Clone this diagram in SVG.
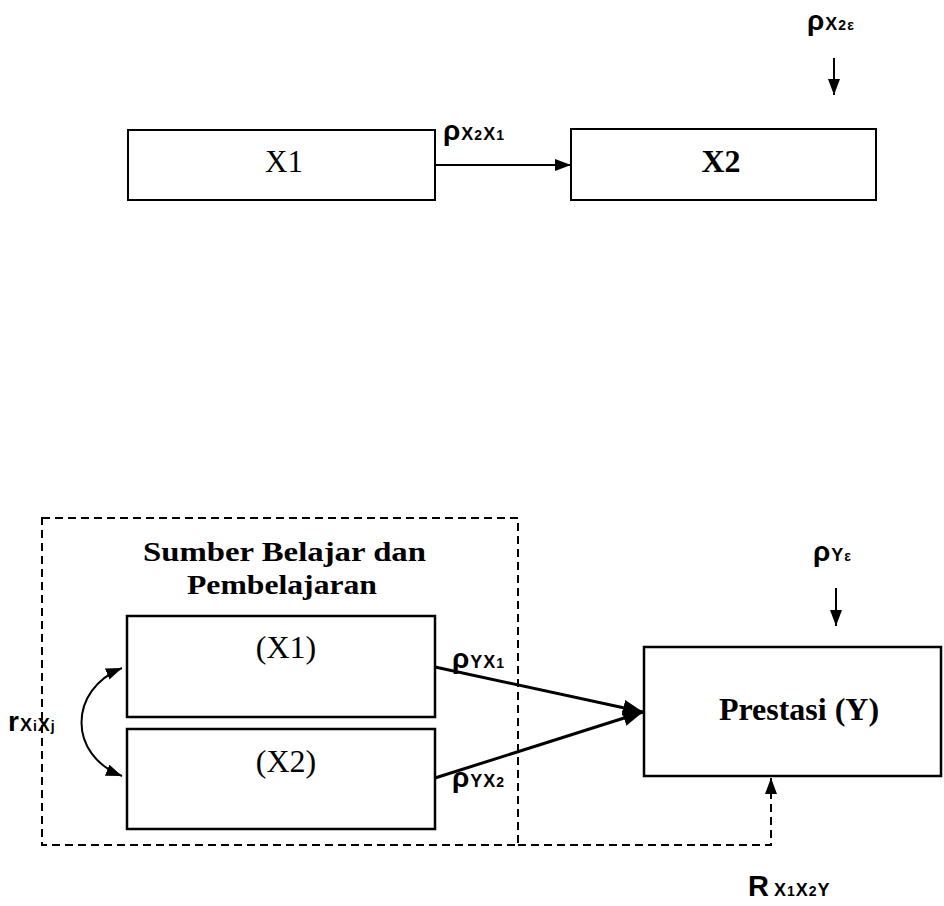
<svg xmlns="http://www.w3.org/2000/svg" width="944" height="906" viewBox="0 0 944 906">
<style>
.box{fill:#fff;stroke:#000;stroke-width:2.5}
.serif{font-family:"Liberation Serif","Times New Roman",serif;fill:#000}
.bold{font-weight:bold}
.lbl{font-family:"Liberation Sans",Arial,sans-serif;fill:#000;letter-spacing:1px}
.rho{font-size:28px;font-weight:bold}
.sub{font-size:18px;font-weight:bold}
.subn{font-size:14px;font-weight:bold}
.conn{fill:none;stroke:#000;stroke-width:2}
.thick{stroke-width:3}
.dash{fill:none;stroke:#000;stroke-width:2;stroke-dasharray:8 5}
</style>
<defs>
<marker id="ah" viewBox="0 0 16 12" refX="16" refY="6" markerWidth="16" markerHeight="12" orient="auto-start-reverse" markerUnits="userSpaceOnUse">
<path d="M0,0 L16,6 L0,12 Z" fill="#000"/>
</marker>
<marker id="ahBig" viewBox="0 0 20 16" refX="20" refY="8" markerWidth="20" markerHeight="16" orient="auto" markerUnits="userSpaceOnUse">
<path d="M0,0 L20,8 L0,16 Z" fill="#000"/>
</marker>
</defs>

<!-- Top diagram -->
<g id="nodeX1top">
<rect class="box" x="128" y="130" width="307" height="70" style="stroke-width:2"/>
<text class="serif" x="284" y="172" font-size="31" text-anchor="middle">X1</text>
</g>
<g id="nodeX2top">
<rect class="box" x="571" y="129" width="305" height="71" style="stroke-width:2"/>
<text class="serif bold" x="721" y="172" font-size="32" text-anchor="middle">X2</text>
</g>

<!-- Bottom diagram -->
<g id="group">
<rect class="dash" x="42" y="518" width="476" height="327"/>
<text class="serif bold" x="143" y="561" font-size="28" textLength="283" lengthAdjust="spacingAndGlyphs">Sumber Belajar dan</text>
<text class="serif bold" x="187" y="594" font-size="28" textLength="190" lengthAdjust="spacingAndGlyphs">Pembelajaran</text>
</g>
<g id="nodeX1">
<rect class="box" x="127" y="616" width="308" height="101"/>
<text class="serif" x="286" y="658" font-size="32" text-anchor="middle">(X1)</text>
</g>
<g id="nodeX2">
<rect class="box" x="127" y="729" width="308" height="100"/>
<text class="serif" x="286" y="772" font-size="32" text-anchor="middle">(X2)</text>
</g>
<g id="nodeY">
<rect class="box" x="644" y="647" width="297" height="129"/>
<text class="serif bold" x="799" y="720" font-size="32" text-anchor="middle">Prestasi (Y)</text>
</g>

<g id="connectors">
<line class="conn" x1="435" y1="165" x2="571" y2="165" marker-end="url(#ah)"/>
<line class="conn" x1="834" y1="58" x2="834" y2="95" marker-end="url(#ah)"/>
<line class="conn" x1="836" y1="588" x2="836" y2="626" marker-end="url(#ah)"/>
<line class="conn thick" x1="435" y1="667" x2="643" y2="712" marker-end="url(#ahBig)"/>
<line class="conn thick" x1="435" y1="778" x2="643" y2="712" marker-end="url(#ahBig)"/>
<path class="conn" d="M122,668 C68,690 68,755 122,776" marker-start="url(#ah)" marker-end="url(#ah)"/>
<path class="dash" d="M518,845 L771,845 L771,778" marker-end="url(#ah)"/>
</g>

<g id="labels">
<text class="lbl" x="443" y="140"><tspan class="rho">ρ</tspan><tspan class="sub">X</tspan><tspan class="subn">2</tspan><tspan class="sub">X</tspan><tspan class="subn">1</tspan></text>
<text class="lbl" x="807" y="30"><tspan class="rho">ρ</tspan><tspan class="sub">X</tspan><tspan class="subn">2ε</tspan></text>
<text class="lbl" x="813" y="561"><tspan class="rho">ρ</tspan><tspan class="sub">Y</tspan><tspan class="subn">ε</tspan></text>
<text class="lbl" x="452" y="668"><tspan class="rho">ρ</tspan><tspan class="sub">YX</tspan><tspan class="subn">1</tspan></text>
<text class="lbl" x="452" y="787"><tspan class="rho">ρ</tspan><tspan class="sub">YX</tspan><tspan class="subn">2</tspan></text>
<text class="lbl" x="8" y="731"><tspan font-size="28" font-weight="bold">r</tspan><tspan class="sub">X</tspan><tspan class="subn">i</tspan><tspan class="sub">X</tspan><tspan class="subn">j</tspan></text>
<text class="lbl" x="748" y="896"><tspan font-size="29" font-weight="bold">R</tspan><tspan class="sub" dx="4">X</tspan><tspan class="subn">1</tspan><tspan class="sub">X</tspan><tspan class="subn">2</tspan><tspan class="sub">Y</tspan></text>
</g>
</svg>
